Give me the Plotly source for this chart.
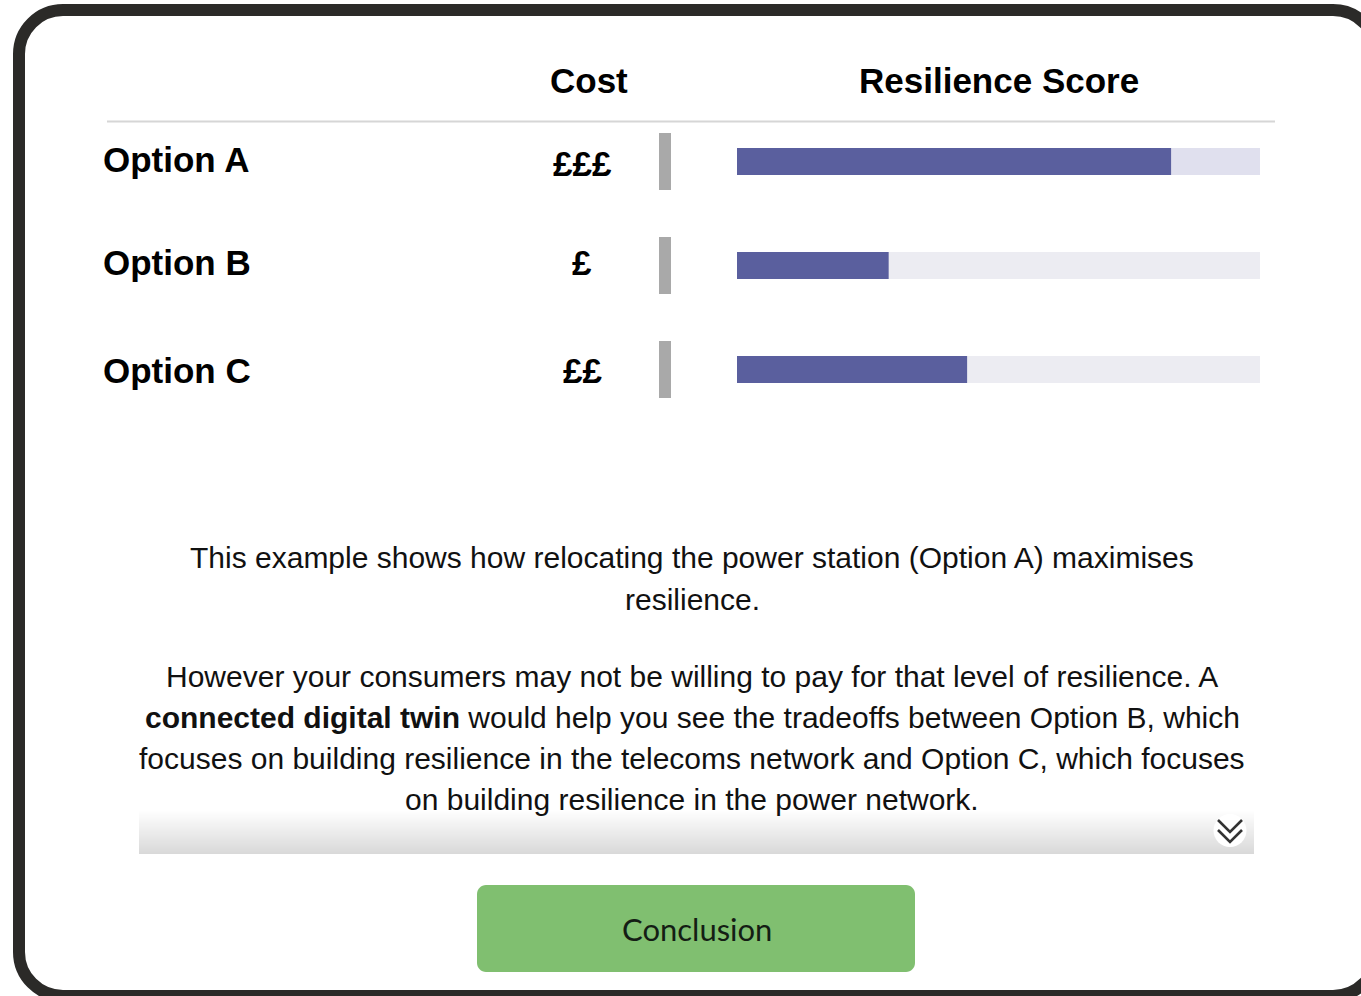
import plotly.graph_objects as go

# ---------------- data ----------------
options = ["Option A", "Option B", "Option C"]
cost_labels = ["£££", "£", "££"]
cost_indicator = [1, 1, 1]
resilience = [83, 29, 44]
score_max = [100, 100, 100]
track_colors = ["#e0e0ee", "#ececf2", "#ececf2"]

header_cost = "Cost"
header_score = "Resilience Score"
para_lines = [
    "This example shows how relocating the power station (Option A) maximises",
    "resilience.",
    "However your consumers may not be willing to pay for that level of resilience. A",
    "<b>connected digital twin</b> would help you see the tradeoffs between Option B, which",
    "focuses on building resilience in the telecoms network and Option C, which focuses",
    "on building resilience in the power network.",
]
button_label = "Conclusion"

W, H = 1361, 996
FONT = "Liberation Sans, Arial, sans-serif"


def px_x(v):
    return v / W


def px_y(v):
    return 1 - v / H


def rrect(x0, y0, x1, y1, r):
    k = 0.5523 * r
    return (
        f"M{x0+r},{y0} L{x1-r},{y0} C{x1-r+k},{y0} {x1},{y0+r-k} {x1},{y0+r} "
        f"L{x1},{y1-r} C{x1},{y1-r+k} {x1-r+k},{y1} {x1-r},{y1} "
        f"L{x0+r},{y1} C{x0+r-k},{y1} {x0},{y1-r+k} {x0},{y1-r} "
        f"L{x0},{y0+r} C{x0},{y0+r-k} {x0+r-k},{y0} {x0+r},{y0} Z"
    )


fig = go.Figure()

# invisible trace to anchor the pixel axes
fig.add_trace(go.Scatter(x=[0, W], y=[0, H], mode="markers",
                         marker=dict(opacity=0), hoverinfo="skip",
                         showlegend=False, xaxis="x", yaxis="y"))

# resilience score tracks and fills
fig.add_trace(go.Bar(x=score_max, y=options, orientation="h", xaxis="x2", yaxis="y2",
                     marker=dict(color=track_colors, line=dict(width=0)),
                     width=0.26, showlegend=False, hoverinfo="skip"))
fig.add_trace(go.Bar(x=resilience, y=options, orientation="h", xaxis="x2", yaxis="y2",
                     marker=dict(color="#5a5f9e", line=dict(width=0)),
                     width=0.26, showlegend=False))

# cost indicator bars
fig.add_trace(go.Bar(x=cost_indicator, y=options, orientation="h", xaxis="x3", yaxis="y2",
                     marker=dict(color="#a9a9a9", line=dict(width=0)),
                     width=0.55, showlegend=False, hoverinfo="skip"))

shapes = []
# card border
shapes.append(dict(type="path", xref="x", yref="y", path=rrect(19, 10, 1377, 996, 44),
                   line=dict(color="#2b2a28", width=12), fillcolor="white", layer="below"))
# header rule
shapes.append(dict(type="line", xref="x", yref="y", x0=107, x1=1275, y0=121.5, y1=121.5,
                   line=dict(color="#d6d6d6", width=2), layer="below"))
# gradient strip
g0, g1 = 806, 854
for yy in range(g0, g1):
    t = (yy - g0) / (g1 - g0)
    t = max(0.0, (t - 0.08) / 0.92)
    g = int(round(255 - (255 - 216) * t))
    shapes.append(dict(type="rect", xref="x", yref="y", x0=139, x1=1254, y0=yy, y1=yy + 1,
                       fillcolor=f"rgb({g},{g},{g})", line=dict(width=0), layer="below"))
# chevron icon
shapes.append(dict(type="circle", xref="x", yref="y", x0=1213.5, x1=1246.5, y0=814, y1=847,
                   fillcolor="white", line=dict(width=0), layer="below"))
shapes.append(dict(type="path", xref="x", yref="y",
                   path="M1218,820 L1230,832 L1242,820 M1218,830 L1230,842 L1242,830",
                   line=dict(color="#333333", width=2.6)))
# button
shapes.append(dict(type="path", xref="x", yref="y", path=rrect(477, 885, 915, 972, 9),
                   fillcolor="#80bf70", line=dict(width=0), layer="below"))

annotations = []
annotations.append(dict(text=f"<b>{header_cost}</b>", xref="x", yref="y", x=589, y=80,
                        showarrow=False, font=dict(family=FONT, size=35, color="#000"),
                        xanchor="center", yanchor="middle"))
annotations.append(dict(text=f"<b>{header_score}</b>", xref="x", yref="y", x=999, y=80,
                        showarrow=False, font=dict(family=FONT, size=35, color="#000"),
                        xanchor="center", yanchor="middle"))
opt_shift = [2, 3, -1]
cost_shift = [-2, 3, -1]
for opt, cl, os_, cs_ in zip(options, cost_labels, opt_shift, cost_shift):
    annotations.append(dict(text=f"<b>{opt}</b>", xref="paper", yref="y2", x=px_x(101), y=opt,
                            yshift=os_, showarrow=False,
                            font=dict(family=FONT, size=35, color="#000"),
                            xanchor="left", yanchor="middle"))
    annotations.append(dict(text=f"<b>{cl}</b>", xref="paper", yref="y2", x=px_x(582), y=opt,
                            yshift=cs_, showarrow=False,
                            font=dict(family=FONT, size=35, color="#000"),
                            xanchor="center", yanchor="middle"))

line_y = [557, 599, 676, 717, 758, 799]
for txt, yy in zip(para_lines, line_y):
    annotations.append(dict(text=txt, xref="x", yref="y", x=692, y=yy, showarrow=False,
                            font=dict(family=FONT, size=30, color="#111111"),
                            xanchor="center", yanchor="middle"))

annotations.append(dict(text=button_label, xref="x", yref="y", x=697, y=929, showarrow=False,
                        font=dict(family="Lato, Open Sans, sans-serif", size=31, color="#141d14"),
                        xanchor="center", yanchor="middle"))

# category axis geometry: centres at 161.5, 265.5, 369.5 px
y_top, y_bot = 109.5, 421.5

fig.update_layout(
    width=W, height=H, margin=dict(l=0, r=0, t=0, b=0),
    paper_bgcolor="white", plot_bgcolor="rgba(0,0,0,0)",
    barmode="overlay", showlegend=False,
    xaxis=dict(range=[0, W], domain=[0, 1], visible=False, fixedrange=True),
    yaxis=dict(range=[H, 0], domain=[0, 1], visible=False, fixedrange=True),
    xaxis2=dict(range=[0, 100], domain=[px_x(737), px_x(1260)], anchor="y2",
                visible=False, fixedrange=True),
    xaxis3=dict(range=[0, 1], domain=[px_x(659), px_x(671)], anchor="y2",
                visible=False, fixedrange=True),
    yaxis2=dict(type="category", categoryarray=options, categoryorder="array",
                range=[2.5, -0.5], domain=[px_y(y_bot), px_y(y_top)], anchor="x2",
                visible=False, fixedrange=True),
    shapes=shapes, annotations=annotations,
)

fig.write_html("out.html", config={"displayModeBar": False})
